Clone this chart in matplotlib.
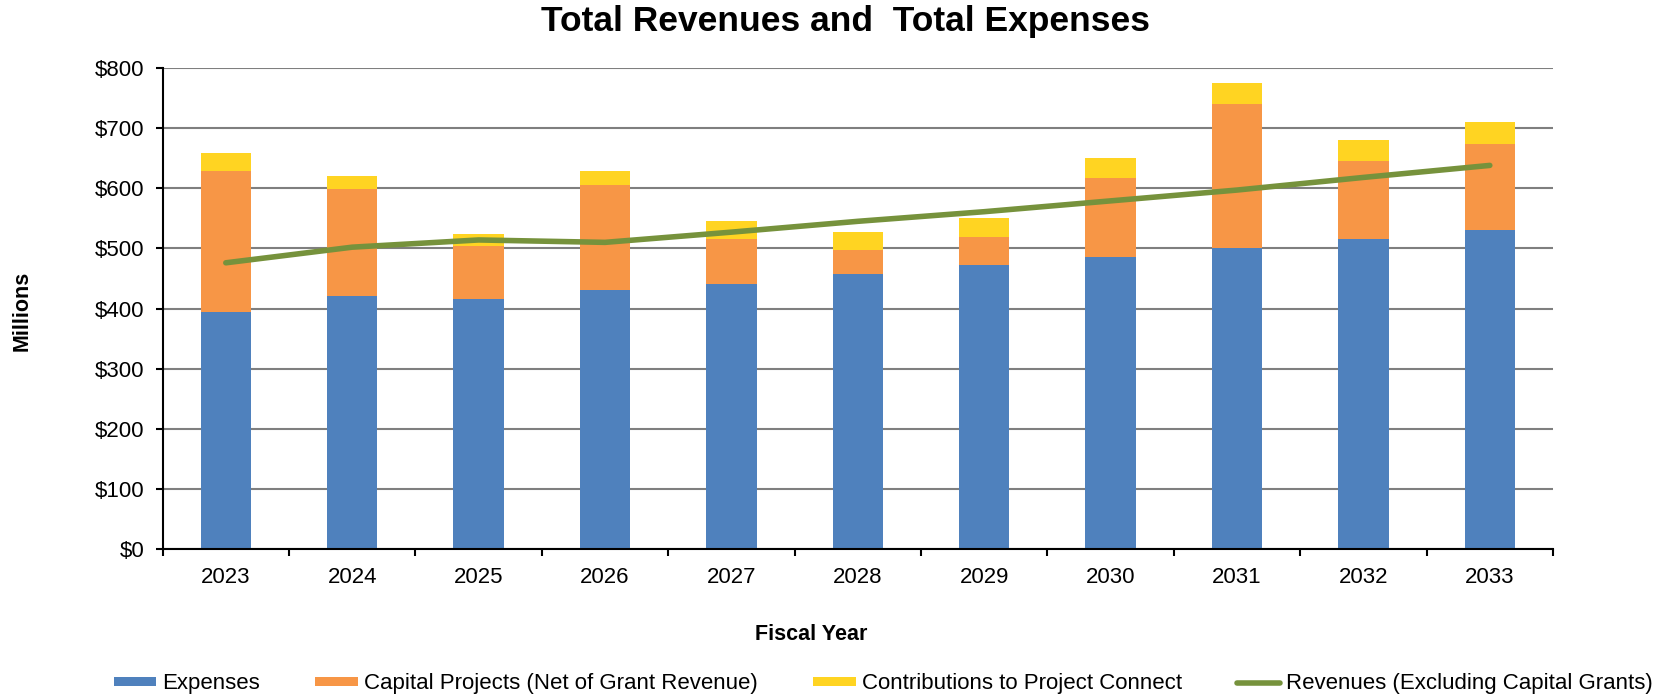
import matplotlib

matplotlib.use("Agg")
import matplotlib.pyplot as plt
from matplotlib.ticker import FixedLocator

plt.rcParams["font.family"] = ["Liberation Sans", "DejaVu Sans"]

years = ["2023", "2024", "2025", "2026", "2027", "2028",
         "2029", "2030", "2031", "2032", "2033"]
expenses = [395, 420, 415, 431, 441, 457, 472, 486, 501, 515, 531]
capital_projects = [233, 179, 89, 174, 74, 40, 47, 131, 239, 131, 143]
project_connect = [30, 21, 20, 23, 30, 30, 31, 33, 35, 34, 36]
revenues = [476, 502, 514, 510, 527, 545, 561, 579, 597, 618, 638]

c_blue = "#4F81BD"
c_orange = "#F79646"
c_yellow = "#FFD422"
c_green = "#76923C"

fig = plt.figure(figsize=(16.66, 6.97), dpi=100)
ax = fig.add_axes([162.6 / 1666, 1 - 549 / 697, (1553 - 162.6) / 1666, (549 - 68) / 697])

x = list(range(len(years)))
w = 0.4
bottom2 = [e for e in expenses]
bottom3 = [e + c for e, c in zip(expenses, capital_projects)]

b1 = ax.bar(x, expenses, w, color=c_blue, label="Expenses", zorder=2)
b2 = ax.bar(x, capital_projects, w, bottom=bottom2, color=c_orange,
            label="Capital Projects (Net of Grant Revenue)", zorder=2)
b3 = ax.bar(x, project_connect, w, bottom=bottom3, color=c_yellow,
            label="Contributions to Project Connect", zorder=2)
ln, = ax.plot(x, revenues, color=c_green, lw=4, solid_capstyle="round",
              label="Revenues (Excluding Capital Grants)", zorder=3)

ax.set_xlim(-0.5, len(years) - 0.5)
ax.set_ylim(0, 800)
ax.set_yticks(range(0, 801, 100))
ax.set_yticklabels([f"${v}" for v in range(0, 801, 100)])
ax.yaxis.grid(True, color="#7f7f7f", lw=1.5, zorder=0)
ax.set_axisbelow(True)

ax.set_xticks(x)
ax.set_xticklabels(years)
ax.xaxis.set_minor_locator(FixedLocator([i - 0.5 for i in range(len(years) + 1)]))
ax.tick_params(axis="x", which="major", length=0, pad=13, labelsize=16)
ax.tick_params(axis="x", which="minor", length=5, width=1.5, direction="out")
ax.tick_params(axis="y", length=5, width=1.5, pad=8, labelsize=16)

for s in ["top", "right"]:
    ax.spines[s].set_visible(False)
for s in ["left", "bottom"]:
    ax.spines[s].set_linewidth(1.5)
    ax.spines[s].set_color("black")

fig.text(846 / 1666, 1 - 22 / 697, "Total Revenues and  Total Expenses",
         ha="center", va="center", fontsize=25.5, fontweight="bold")
fig.text(811 / 1666, 1 - 635 / 697, "Fiscal Year",
         ha="center", va="center", fontsize=15.5, fontweight="bold")
fig.text(22 / 1666, 1 - 311 / 697, "Millions", rotation=90,
         ha="center", va="center", fontsize=15.5, fontweight="bold")

fig.legend([b1, b2, b3, ln],
           [b1.get_label(), b2.get_label(), b3.get_label(), ln.get_label()],
           loc="center", bbox_to_anchor=(883 / 1666, 1 - 684 / 697), ncol=4,
           frameon=False, fontsize=16, handlelength=1.92, handleheight=0.25,
           handletextpad=0.26, columnspacing=2.5, borderpad=0, borderaxespad=0)

fig.savefig("out.png", dpi=100)
